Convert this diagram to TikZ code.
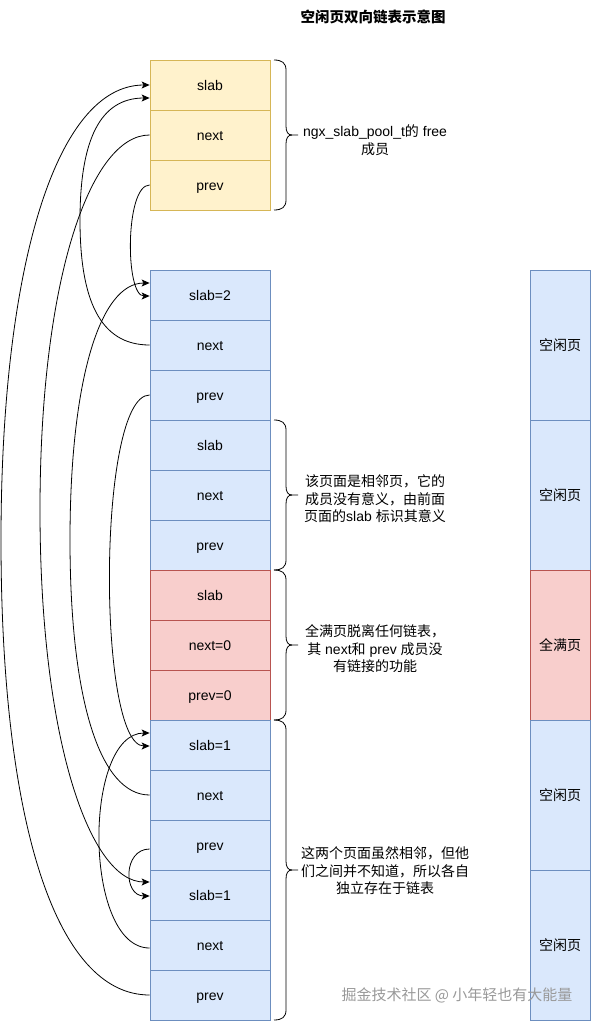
\documentclass[tikz,border=0pt]{standalone}
\usepackage{fontspec}
\setmainfont{Liberation Sans}
\newfontfamily\cjk{Noto Sans CJK SC}
\usetikzlibrary{arrows.meta}
\definecolor{yfill}{HTML}{FFF2CC}\definecolor{ydraw}{HTML}{D6B656}
\definecolor{bfill}{HTML}{DAE8FC}\definecolor{bdraw}{HTML}{6C8EBF}
\definecolor{rfill}{HTML}{F8CECC}\definecolor{rdraw}{HTML}{B85450}
\newcommand\mybrace[2]{%
  \draw[bracestyle] (274,#1) .. controls (282,#1) and (286,{#1+3}) .. (286,{#1+10})
    -- (286,{(#1+#2)/2-9}) .. controls (286,{(#1+#2)/2-3}) and (288,{(#1+#2)/2}) .. (292,{(#1+#2)/2})
    -- (298,{(#1+#2)/2});
  \draw[bracestyle] (274,#2) .. controls (282,#2) and (286,{#2-3}) .. (286,{#2-10})
    -- (286,{(#1+#2)/2+9}) .. controls (286,{(#1+#2)/2+3}) and (288,{(#1+#2)/2}) .. (292,{(#1+#2)/2});
}
\begin{document}
\begin{tikzpicture}[x=1pt,y=-1pt,
  cell/.style={draw, minimum width=120pt, minimum height=50pt, inner sep=0pt,
    text height=11.5pt, text depth=1.5pt,
    line width=0.8pt, font=\fontsize{14}{17}\selectfont},
  ycell/.style={cell, fill=yfill, draw=ydraw},
  bcell/.style={cell, fill=bfill, draw=bdraw},
  rcell/.style={cell, fill=rfill, draw=rdraw},
  pagebox/.style={draw, minimum width=60pt, minimum height=150pt, inner sep=0pt,
    line width=0.8pt, font=\fontsize{14}{17}\selectfont\cjk},
  link/.style={-{Stealth[length=8pt,width=7pt,inset=2pt]}, line width=0.8pt},
  bracestyle/.style={line width=0.8pt},
  note/.style={align=center, inner sep=0pt, font=\fontsize{14}{17.5}\selectfont}
]
\useasboundingbox[fill=white] (0,0) rectangle (591,1021);

% title
\node[font=\fontsize{14.5}{17}\selectfont\cjk\bfseries] (title) at (373,17) {空闲页双向链表示意图};

% free member of ngx_slab_pool_t
\node[ycell] (fs) at (210,85) {slab};
\node[ycell] (fn) at (210,135) {next};
\node[ycell] (fp) at (210,185) {prev};

% pages
\node[bcell] (c0) at (210,295) {slab=2};
\node[bcell] (c1) at (210,345) {next};
\node[bcell] (c2) at (210,395) {prev};
\node[bcell] (c3) at (210,445) {slab};
\node[bcell] (c4) at (210,495) {next};
\node[bcell] (c5) at (210,545) {prev};
\node[rcell] (c6) at (210,595) {slab};
\node[rcell] (c7) at (210,645) {next=0};
\node[rcell] (c8) at (210,695) {prev=0};
\node[bcell] (c9) at (210,745) {slab=1};
\node[bcell] (c10) at (210,795) {next};
\node[bcell] (c11) at (210,845) {prev};
\node[bcell] (c12) at (210,895) {slab=1};
\node[bcell] (c13) at (210,945) {next};
\node[bcell] (c14) at (210,995) {prev};

% right column
\node[pagebox, fill=bfill, draw=bdraw] (r1) at (560,345) {空闲页};
\node[pagebox, fill=bfill, draw=bdraw] (r2) at (560,495) {空闲页};
\node[pagebox, fill=rfill, draw=rdraw] (r3) at (560,645) {全满页};
\node[pagebox, fill=bfill, draw=bdraw] (r4) at (560,795) {空闲页};
\node[pagebox, fill=bfill, draw=bdraw] (r5) at (560,945) {空闲页};

% braces
\mybrace{60}{210}
\mybrace{420}{570}
\mybrace{570}{720}
\mybrace{720}{1020}

% notes
\node[note] (n1) at (375,140) {ngx\_slab\_pool\_t{\cjk 的} free\\{\cjk 成员}};
\node[note] (n2) at (375,499) {{\cjk 该页面是相邻页，它的}\\{\cjk 成员没有意义，由前面}\\{\cjk 页面的}slab {\cjk 标识其意义}};
\node[note] (n3) at (375,649) {{\cjk 全满页脱离任何链表，}\\{\cjk 其} next{\cjk 和} prev {\cjk 成员没}\\{\cjk 有链接的功能}};
\node[note] (n4) at (385,871) {{\cjk 这两个页面虽然相邻，但他}\\{\cjk 们之间并不知道，所以各自}\\{\cjk 独立存在于链表}};

% watermark
\node[font=\fontsize{15}{17}\selectfont\cjk, text=black!40] (wm) at (457,995) {掘金技术社区 @ 小年轻也有大能量};

% links
\draw[link] (c14.west) .. controls (55,995) and (1,820) .. (1,540)
  .. controls (1,270) and (55,85) .. (fs.west);
\draw[link] (c1.west) .. controls (100,345) and (80,300) .. (80,220)
  .. controls (80,140) and (100,98) .. ([yshift=-13pt]fs.west);
\draw[link] (fn.west) .. controls (90,135) and (40,280) .. (40,510)
  .. controls (40,740) and (90,882) .. ([yshift=13pt]c12.west);
\draw[link] (c10.west) .. controls (100,795) and (70,700) .. (70,540)
  .. controls (70,380) and (100,283) .. ([yshift=12pt]c0.west);
\draw[link] (fp.west) .. controls (125,185) and (125,296) .. ([yshift=-1pt]c0.west);
\draw[link] (c2.west) .. controls (97,395) and (97,746) .. ([yshift=-1pt]c9.west);
\draw[link] ([yshift=-3pt]c13.west) .. controls (83,948) and (83,733) .. ([yshift=12pt]c9.west);
\draw[link] ([yshift=-4pt]c11.west) .. controls (123,849) and (123,896) .. ([yshift=-1pt]c12.west);
\end{tikzpicture}
\end{document}
